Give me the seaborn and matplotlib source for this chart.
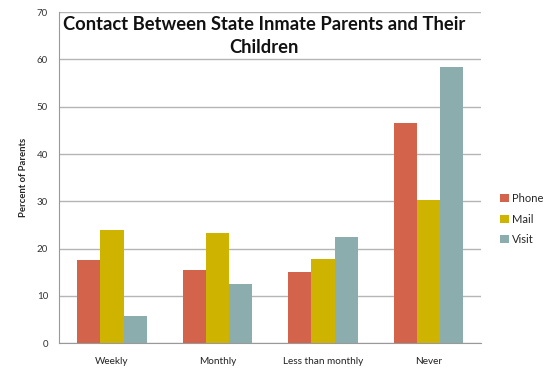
import pandas as pd
import seaborn as sns
import matplotlib.pyplot as plt
from matplotlib.ticker import FixedLocator

# Datos
categories = ["Weekly", "Monthly", "Less than monthly", "Never"]
phone = [17.5, 15.5, 15.0, 46.6]
mail = [24.0, 23.2, 17.8, 30.3]
visit = [5.8, 12.5, 22.5, 58.4]
series_names = ["Phone", "Mail", "Visit"]
colors = ["#D4634B", "#CEB300", "#8CADAE"]

df = pd.DataFrame({
    "category": categories * 3,
    "value": phone + mail + visit,
    "series": [s for s in series_names for _ in categories],
})

sns.set_style("white")
plt.rcParams['font.family'] = ['Lato', 'DejaVu Sans']

fig = plt.figure(figsize=(5.48, 3.69), dpi=100)
ax = fig.add_axes([0.108, 0.070, 0.770, 0.897])

sns.barplot(data=df, x="category", y="value", hue="series", order=categories,
            hue_order=series_names, palette=colors, width=0.66, gap=0,
            saturation=1, ax=ax, linewidth=0)

ax.set_ylim(0, 70)
ax.set_yticks(range(0, 71, 10))
ax.set_xlim(-0.5, 3.5)
ax.yaxis.grid(True, color="#B5B5B5", linewidth=1)
ax.set_axisbelow(True)
ax.tick_params(axis="y", labelsize=7, length=0, pad=8, colors="#333333")
ax.tick_params(axis="x", labelsize=7.2, length=0, pad=10, colors="#222222")
ax.xaxis.set_minor_locator(FixedLocator([-0.5, 0.5, 1.5, 2.5, 3.5]))
ax.tick_params(axis="x", which="minor", length=3, color="#999999", direction="out")
for side in ["top", "right"]:
    ax.spines[side].set_visible(False)
for side in ["left", "bottom"]:
    ax.spines[side].set_color("#999999")
ax.set_xlabel("")
ax.set_ylabel("Percent of Parents", fontsize=6.8, fontweight="bold", labelpad=6)

ax.legend(loc="center left", bbox_to_anchor=(1.022, 0.375), frameon=False,
          fontsize=8, handlelength=0.75, handleheight=0.75, handletextpad=0.3,
          labelspacing=0.85)

fig.text(0.482, 0.902, "Contact Between State Inmate Parents and Their\nChildren",
         ha="center", va="center", fontsize=13.2, fontweight="bold",
         linespacing=1.4, color="#111111")

fig.savefig("out.png", dpi=100)
